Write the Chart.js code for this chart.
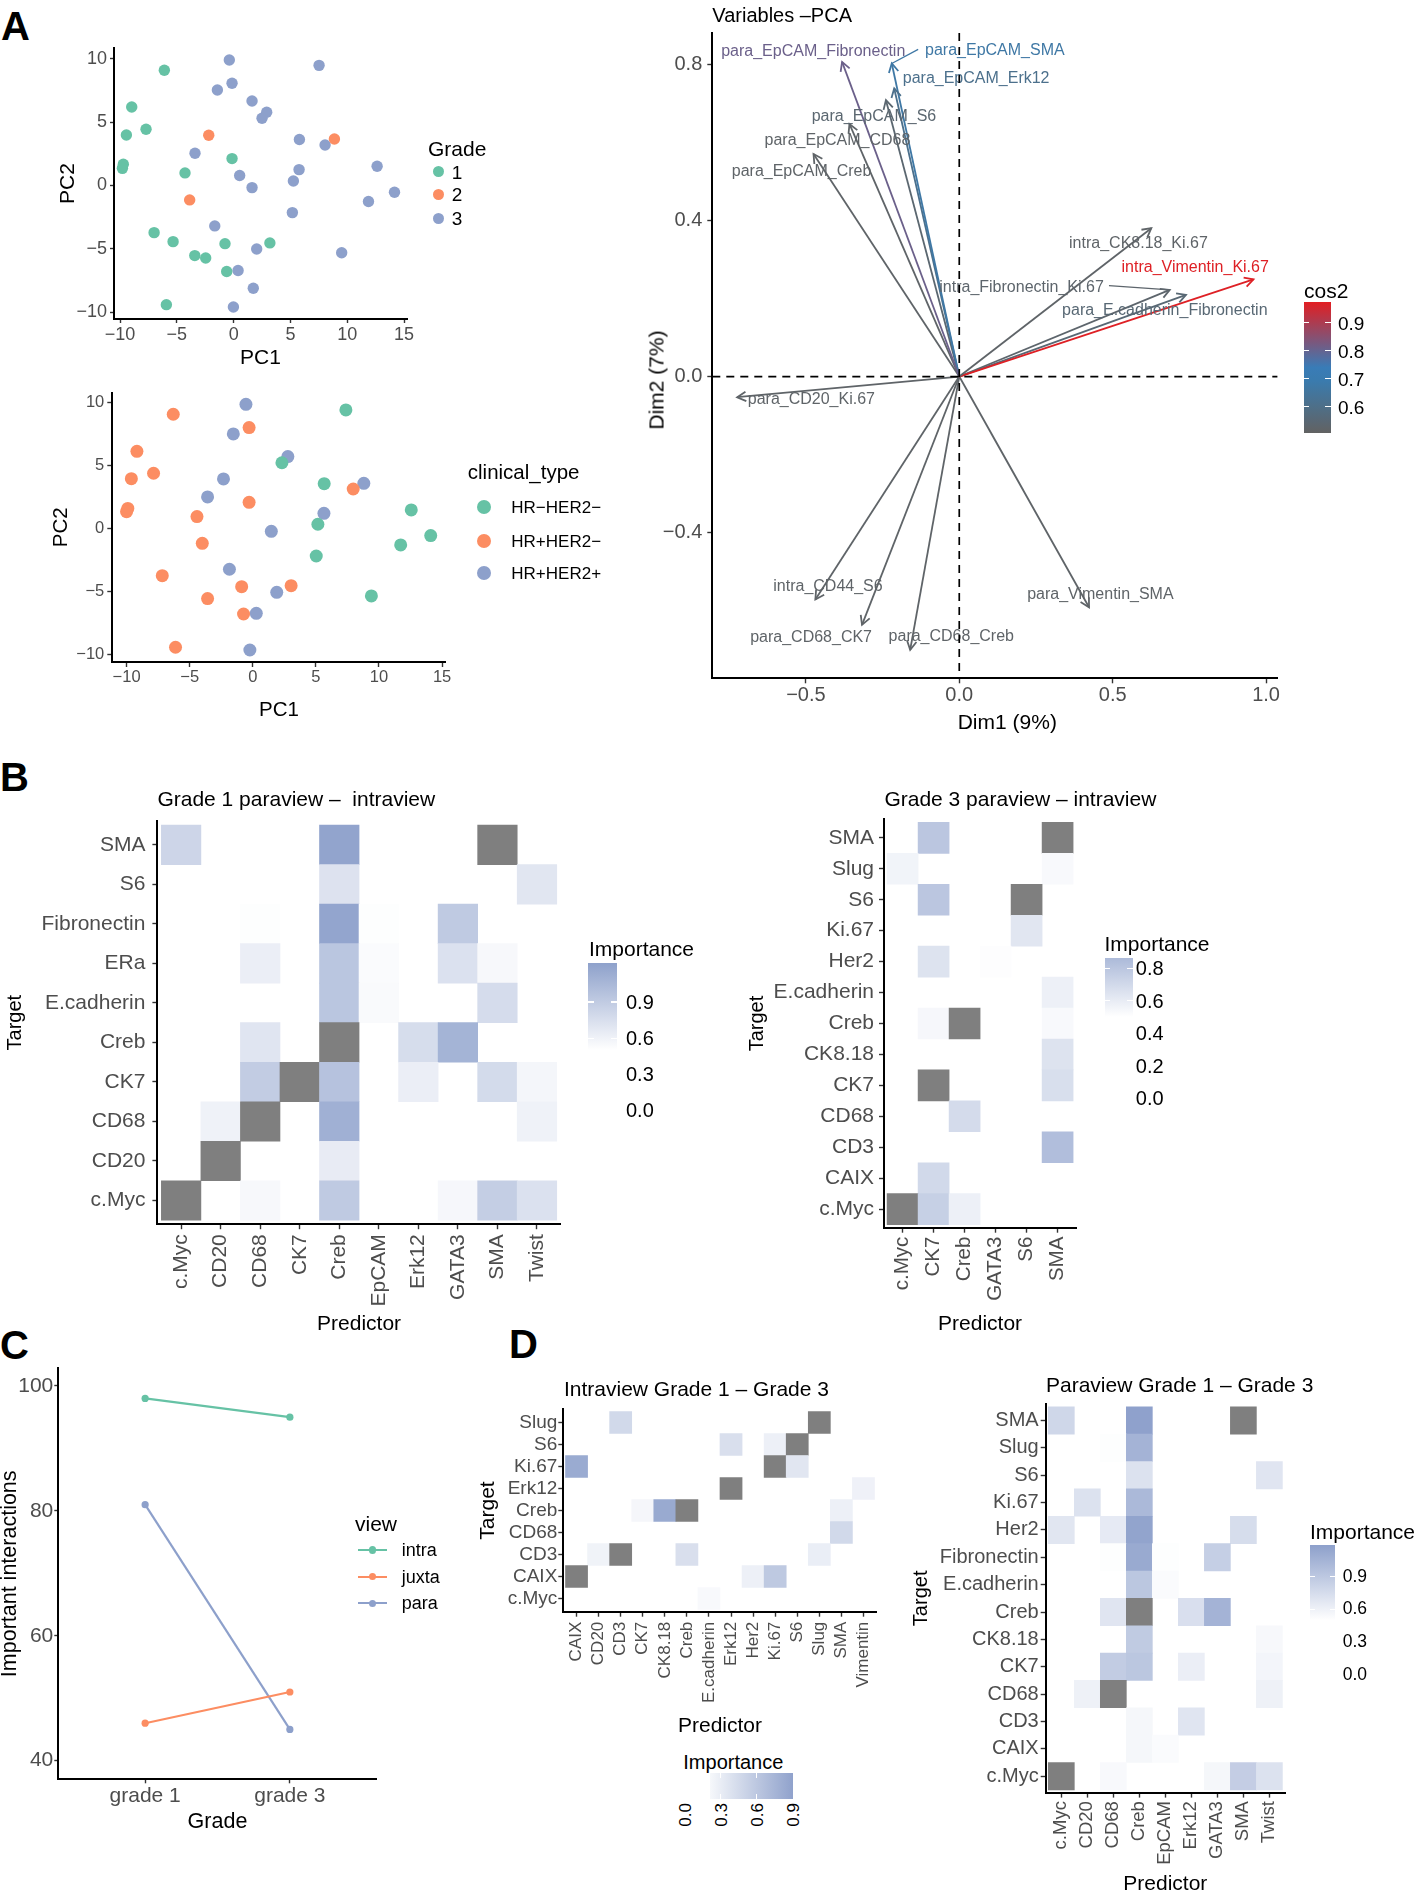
<!DOCTYPE html>
<html>
<head>
<meta charset="utf-8">
<title>Figure</title>
<script src="https://cdn.jsdelivr.net/npm/chart.js@4.4.1/dist/chart.umd.min.js"></script>
<style>
  html, body { margin: 0; padding: 0; background: #ffffff; }
  #page { position: relative; width: 1422px; height: 1892px; overflow: hidden; background: #ffffff;
          font-family: 'Liberation Sans', Arial, Helvetica, sans-serif; }
  #page .t { position: absolute; white-space: pre; line-height: 1; }
  #page canvas { position: absolute; }
  #page .box { position: absolute; }
</style>
</head>
<body>
<div id="page"></div>
<script>
// ======================= DATA =======================
// Panel A (top): PCA scores coloured by grade
const gradeLevels = ['1', '2', '3'];
const grade1PC1 = [-6.10, -8.97, -7.71, -9.44, -9.71, -9.79, -0.14, -4.28, -7.00, -5.33, -3.42, -2.46, -0.76, 3.19, -0.61, -5.92];
const grade1PC2 = [9.08, 6.19, 4.43, 3.98, 1.67, 1.35, 2.12, 0.99, -3.72, -4.43, -5.53, -5.72, -4.59, -4.53, -6.79, -9.40];
const grade2PC1 = [-2.19, 8.87, -3.87];
const grade2PC2 = [3.96, 3.67, -1.14];
const grade3PC1 = [-0.38, 7.52, -0.14, -1.43, 1.62, 2.91, 2.50, 5.79, 8.05, -3.40, 0.53, 1.62, 5.76, 5.26, 12.63, 14.16, 11.87, 5.17, -1.66, 2.03, 9.51, 0.39, 1.73, -0.02];
const grade3PC2 = [9.89, 9.47, 8.06, 7.53, 6.66, 5.77, 5.30, 3.62, 3.19, 2.54, 0.78, -0.17, 1.25, 0.35, 1.51, -0.54, -1.27, -2.14, -3.19, -5.01, -5.30, -6.71, -8.11, -9.58];

// Panel A (bottom): PCA scores coloured by clinical type
const clinicalTypes = ['HR\u2212HER2\u2212', 'HR+HER2\u2212', 'HR+HER2+'];
const hrNegPC1 = [7.38, 2.31, 5.66, 12.56, 5.16, 14.10, 11.72, 5.03, 9.40];
const hrNegPC2 = [9.39, 5.20, 3.54, 1.46, 0.32, -0.58, -1.32, -2.20, -5.37];
const hrPosHer2NegPC1 = [-6.30, -0.29, -9.18, -9.62, -7.86, -9.90, -10.00, -0.29, -4.42, -4.00, -7.17, -3.58, -0.88, 3.04, -0.73, -6.12, 7.96];
const hrPosHer2NegPC2 = [9.05, 7.99, 6.11, 3.94, 4.37, 1.58, 1.32, 2.06, 0.93, -1.19, -3.76, -5.58, -4.63, -4.55, -6.80, -9.44, 3.12];
const hrPosHer2PosPC1 = [-0.54, -1.54, 2.78, -2.32, -3.58, 8.80, 5.64, 1.47, -1.85, 1.90, 0.28, -0.23];
const hrPosHer2PosPC2 = [9.84, 7.49, 5.69, 3.92, 2.49, 3.57, 1.19, -0.24, -3.25, -5.08, -6.75, -9.66];
const pcTicksX = [-10, -5, 0, 5, 10, 15];
const pcTicksY = [-10, -5, 0, 5, 10];

// Panel A (right): PCA variables
const varNames = ['para_EpCAM_Fibronectin', 'para_EpCAM_SMA', 'para_EpCAM_Erk12', 'para_EpCAM_S6', 'para_EpCAM_CD68',
  'para_EpCAM_Creb', 'intra_CK8.18_Ki.67', 'intra_Vimentin_Ki.67', 'intra_Fibronectin_Ki.67', 'para_E.cadherin_Fibronectin',
  'para_CD20_Ki.67', 'intra_CD44_S6', 'para_CD68_CK7', 'para_CD68_Creb', 'para_Vimentin_SMA'];
const varDim1 = [-0.382, -0.220, -0.212, -0.239, -0.358, -0.475, 0.626, 0.959, 0.686, 0.739, -0.724, -0.469, -0.317, -0.160, 0.423];
const varDim2 = [0.806, 0.802, 0.738, 0.708, 0.647, 0.570, 0.380, 0.249, 0.222, 0.209, -0.053, -0.571, -0.636, -0.700, -0.591];
const varCos2 = [0.81, 0.67, 0.61, 0.54, 0.52, 0.52, 0.52, 0.97, 0.53, 0.55, 0.52, 0.52, 0.52, 0.52, 0.52];
const varLabelDim1 = [-0.476, 0.116, 0.055, -0.278, -0.397, -0.514, 0.584, 0.769, 0.203, 0.670, -0.482, -0.428, -0.483, -0.026, 0.460];
const varLabelDim2 = [0.832, 0.835, 0.764, 0.666, 0.604, 0.526, 0.340, 0.278, 0.228, 0.168, -0.059, -0.538, -0.670, -0.666, -0.559];
// label leader segments (start point in Dim units; null = no segment)
const varSegDim1 = [null, -0.134, null, null, null, null, null, null, 0.488, null, null, null, null, null, null];
const varSegDim2 = [null, 0.838, null, null, null, null, null, null, 0.233, null, null, null, null, null, null];
const dimTicksX = [-0.5, 0, 0.5, 1.0];
const dimTicksY = [-0.4, 0, 0.4, 0.8];
const cos2Ticks = [0.9, 0.8, 0.7, 0.6];

// Panel B (left): Grade 1 paraview - intraview importance (rows top -> bottom)
const g1Targets = ['SMA', 'S6', 'Fibronectin', 'ERa', 'E.cadherin', 'Creb', 'CK7', 'CD68', 'CD20', 'c.Myc'];
const g1Predictors = ['c.Myc', 'CD20', 'CD68', 'CK7', 'Creb', 'EpCAM', 'Erk12', 'GATA3', 'SMA', 'Twist'];
const g1Importance = [
  [0.82, 0, 0, 0, 1.20, 0, 0, 0, null, 0],
  [0, 0, 0, 0, 0.72, 0, 0, 0, 0, 0.69],
  [0, 0, 0.51, 0, 1.19, 0.51, 0, 0.91, 0, 0],
  [0, 0, 0.63, 0, 0.94, 0.53, 0, 0.73, 0.55, 0],
  [0, 0, 0, 0, 0.94, 0.54, 0, 0, 0.77, 0],
  [0, 0, 0.70, 0, null, 0, 0.76, 1.08, 0, 0],
  [0, 0, 0.89, null, 0.97, 0, 0.63, 0, 0.78, 0.57],
  [0, 0.60, null, 0, 1.11, 0, 0, 0, 0, 0.60],
  [0, null, 0, 0, 0.65, 0, 0, 0, 0, 0],
  [null, 0, 0.55, 0, 0.91, 0, 0, 0.56, 0.88, 0.73]
];
const g1LegendTicks = [0.9, 0.6, 0.3, 0.0];

// Panel B (right): Grade 3 paraview - intraview importance
const g3Targets = ['SMA', 'Slug', 'S6', 'Ki.67', 'Her2', 'E.cadherin', 'Creb', 'CK8.18', 'CK7', 'CD68', 'CD3', 'CAIX', 'c.Myc'];
const g3Predictors = ['c.Myc', 'CK7', 'Creb', 'GATA3', 'S6', 'SMA'];
const g3Importance = [
  [0, 0.80, 0, 0, 0, null],
  [0.56, 0, 0, 0, 0, 0.53],
  [0, 0.80, 0, 0, null, 0],
  [0, 0, 0, 0, 0.63, 0],
  [0, 0.65, 0, 0.51, 0, 0],
  [0, 0, 0, 0, 0, 0.58],
  [0, 0.54, null, 0, 0, 0.53],
  [0, 0, 0, 0, 0, 0.65],
  [0, null, 0, 0, 0, 0.67],
  [0, 0, 0.69, 0, 0, 0],
  [0, 0, 0, 0, 0, 0.84],
  [0, 0.70, 0, 0, 0, 0],
  [null, 0.75, 0.58, 0, 0, 0]
];
const g3LegendTicks = [0.8, 0.6, 0.4, 0.2, 0.0];

// Panel C: important interactions per view
const gradeNames = ['grade 1', 'grade 3'];
const viewNames = ['intra', 'juxta', 'para'];
const intraCounts = [98, 95];
const juxtaCounts = [46, 51];
const paraCounts = [81, 45];
const countTicks = [40, 60, 80, 100];

// Panel D (left): Intraview Grade 1 - Grade 3
const intraTargets = ['Slug', 'S6', 'Ki.67', 'Erk12', 'Creb', 'CD68', 'CD3', 'CAIX', 'c.Myc'];
const intraPredictors = ['CAIX', 'CD20', 'CD3', 'CK7', 'CK8.18', 'Creb', 'E.cadherin', 'Erk12', 'Her2', 'Ki.67', 'S6', 'Slug', 'SMA', 'Vimentin'];
const intraImportance = [
  [0, 0, 0.46, 0, 0, 0, 0, 0, 0, 0, 0, null, 0, 0],
  [0, 0, 0, 0, 0, 0, 0, 0.41, 0, 0.27, null, 0, 0, 0],
  [0.83, 0, 0, 0, 0, 0, 0, 0, 0, null, 0.35, 0, 0, 0],
  [0, 0, 0, 0, 0, 0, 0, null, 0, 0, 0, 0, 0, 0.26],
  [0, 0, 0, 0.22, 0.84, null, 0, 0, 0, 0, 0, 0, 0.27, 0],
  [0, 0, 0, 0, 0, 0, 0, 0, 0, 0, 0, 0, 0.46, 0],
  [0, 0.25, null, 0, 0, 0.41, 0, 0, 0, 0, 0, 0.29, 0, 0],
  [null, 0, 0, 0, 0, 0, 0, 0, 0.27, 0.59, 0, 0, 0, 0],
  [0, 0, 0, 0, 0, 0, 0.20, 0, 0, 0, 0, 0, 0, 0]
];
const intraLegendTicks = [0.0, 0.3, 0.6, 0.9];

// Panel D (right): Paraview Grade 1 - Grade 3
const paraTargets = ['SMA', 'Slug', 'S6', 'Ki.67', 'Her2', 'Fibronectin', 'E.cadherin', 'Creb', 'CK8.18', 'CK7', 'CD68', 'CD3', 'CAIX', 'c.Myc'];
const paraPredictors = ['c.Myc', 'CD20', 'CD68', 'Creb', 'EpCAM', 'Erk12', 'GATA3', 'SMA', 'Twist'];
const paraImportance = [
  [0.79, 0, 0, 1.18, 0, 0, 0, null, 0],
  [0, 0, 0.51, 1.05, 0, 0, 0, 0, 0],
  [0, 0, 0, 0.71, 0, 0, 0, 0, 0.69],
  [0, 0.71, 0, 1.01, 0, 0, 0, 0, 0],
  [0.68, 0, 0.65, 1.16, 0, 0, 0, 0.75, 0],
  [0, 0, 0.51, 1.12, 0.51, 0, 0.85, 0, 0],
  [0, 0, 0, 0.91, 0.53, 0, 0, 0, 0],
  [0, 0, 0.69, null, 0, 0.73, 1.05, 0, 0],
  [0, 0, 0, 0.88, 0, 0, 0, 0, 0.55],
  [0, 0, 0.87, 0.91, 0, 0.62, 0, 0, 0.57],
  [0, 0.60, null, 0, 0, 0, 0, 0, 0.60],
  [0, 0, 0, 0.56, 0, 0.69, 0, 0, 0],
  [0, 0, 0, 0.56, 0.53, 0, 0, 0, 0],
  [null, 0, 0.54, 0, 0, 0, 0.56, 0.86, 0.71]
];
const paraLegendTicks = [0.9, 0.6, 0.3, 0.0];

// ======================= STYLE / HELPERS =======================
const FONT = "'Liberation Sans', Arial, Helvetica, sans-serif";
Chart.defaults.font.family = FONT;
Chart.defaults.animation = false;
const SET2 = ['#66C2A5', '#FC8D62', '#8DA0CB'];
const HEAT_HIGH = [141, 160, 203];
const page = document.getElementById('page');

function rgb(c) { return 'rgb(' + c.map(v => Math.round(v)).join(',') + ')'; }
function mix(a, b, t) { return a.map((v, i) => v + (b[i] - v) * t); }
function fmt(v, d) { return (v < 0 ? '\u2212' : '') + Math.abs(v).toFixed(d); }

function heatColour(v, lo, hi) {
  if (v === null) return '#7F7F7F';
  const t = Math.max(0, Math.min(1, (v - lo) / (hi - lo)));
  return rgb(mix([255, 255, 255], HEAT_HIGH, t));
}
function cos2Colour(v) {
  const stops = [[0.505, [98, 98, 98]], [0.73, [50, 128, 189]], [0.975, [226, 30, 34]]];
  if (v <= stops[0][0]) return rgb(stops[0][1]);
  for (let i = 1; i < stops.length; i++) {
    if (v <= stops[i][0]) {
      const t = (v - stops[i - 1][0]) / (stops[i][0] - stops[i - 1][0]);
      return rgb(mix(stops[i - 1][1], stops[i][1], t));
    }
  }
  return rgb(stops[stops.length - 1][1]);
}

function text(str, x, y, o = {}) {
  const d = document.createElement('div');
  d.className = 't';
  d.textContent = str;
  d.style.left = x + 'px';
  d.style.top = y + 'px';
  d.style.fontSize = (o.size || 20) + 'px';
  d.style.color = o.color || '#000';
  if (o.bold) d.style.fontWeight = 'bold';
  if (o.vertical) {
    d.style.writingMode = 'vertical-rl';
    d.style.transform = 'translateX(-50%) rotate(180deg)';
  } else if (o.rotate) {
    d.style.transform = 'translate(-50%,-50%) rotate(-90deg)';
  } else {
    d.style.transform = o.align === 'center' ? 'translate(-50%,-50%)' : 'translate(0,-50%)';
  }
  page.appendChild(d);
  return d;
}
function box(x, y, w, h, bg, extra) {
  const d = document.createElement('div');
  d.className = 'box';
  d.style.left = x + 'px'; d.style.top = y + 'px';
  d.style.width = w + 'px'; d.style.height = h + 'px';
  d.style.background = bg;
  if (extra) Object.assign(d.style, extra);
  page.appendChild(d);
  return d;
}
function dot(x, y, r, c) { return box(x - r, y - r, 2 * r, 2 * r, c, {borderRadius: '50%'}); }

function frame(p) {
  const yts = p.yTitleSize || 20, xts = p.xTitleSize || 20;
  const cl = Math.round(p.yTitleX != null ? p.yTitleX - 0.6 * yts : p.l - 80);
  const cb = Math.round(p.xTitleY != null ? p.xTitleY + 0.6 * xts : p.b + 80);
  const ct = Math.round(p.t - 24), cr = Math.round(p.r + 30);
  return {
    cl, ct, cr, cb, W: cr - cl, H: cb - ct,
    yw: p.l - cl, xh: cb - p.b, padTop: p.t - ct, padRight: cr - p.r,
    yTitlePad: p.yTitleX != null ? (p.yTitleX - cl) - 0.6 * yts : 0,
    xTitlePad: p.xTitleY != null ? (cb - p.xTitleY) - 0.6 * xts : 0,
    yTitleSize: yts, xTitleSize: xts
  };
}
function newCanvas(f) {
  const c = document.createElement('canvas');
  c.width = f.W; c.height = f.H;
  c.style.left = f.cl + 'px'; c.style.top = f.ct + 'px';
  c.style.width = f.W + 'px'; c.style.height = f.H + 'px';
  page.appendChild(c);
  return c;
}
function axisBase(o) {
  return {
    type: 'linear', min: o.min, max: o.max, offset: false,
    border: {display: true, color: '#000', width: 2},
    grid: {display: true, offset: false, drawOnChartArea: false, drawTicks: true, tickLength: o.tl == null ? 5 : o.tl, tickWidth: 1.4, tickColor: '#333333'},
    ticks: {color: '#4D4D4D', font: {size: o.fs}, padding: o.pad == null ? 2 : o.pad, autoSkip: false,
            minRotation: o.rot || 0, maxRotation: o.rot || 0, callback: (v) => o.label(v)},
    afterBuildTicks: (s) => { s.ticks = o.ticks.map(v => ({value: v})); }
  };
}
function xAxis(f, o) {
  const a = axisBase(o);
  a.position = 'bottom';
  a.afterFit = (s) => { s.height = f.xh; };
  a.title = o.title ? {display: true, text: o.title, color: '#000', font: {size: f.xTitleSize}, padding: {top: 0, bottom: f.xTitlePad}} : {display: false};
  return a;
}
function yAxis(f, o) {
  const a = axisBase(o);
  a.position = 'left';
  a.afterFit = (s) => { s.width = f.yw; };
  a.title = o.title ? {display: true, text: o.title, color: '#000', font: {size: f.yTitleSize}, padding: {top: f.yTitlePad, bottom: 0}} : {display: false};
  return a;
}
function baseOptions(f, scales) {
  return {
    responsive: false, animation: false, events: [],
    layout: {padding: {left: 0, top: f.padTop, right: f.padRight, bottom: 0}},
    plugins: {legend: {display: false}, tooltip: {enabled: false}, title: {display: false}},
    scales
  };
}
function points(xs, ys) { return xs.map((v, i) => ({x: v, y: ys[i]})); }

// ======================= PANEL LETTERS =======================
text('A', 1, 26, {size: 40, bold: true});
text('B', 0, 777, {size: 40, bold: true});
text('C', 0, 1345, {size: 40, bold: true});
text('D', 509, 1343.5, {size: 40, bold: true});

// ======================= A: scatter by grade =======================
(function () {
  const f = frame({l: 114, t: 48, r: 407, b: 319, yTitleX: 68.3, yTitleSize: 21, xTitleY: 358, xTitleSize: 21});
  const series = [[grade1PC1, grade1PC2], [grade2PC1, grade2PC2], [grade3PC1, grade3PC2]];
  new Chart(newCanvas(f), {
    type: 'scatter',
    data: {datasets: series.map((s, k) => ({label: gradeLevels[k], data: points(s[0], s[1]), pointRadius: 5.7,
      pointBackgroundColor: SET2[k], pointBorderWidth: 0, showLine: false}))},
    options: baseOptions(f, {
      x: xAxis(f, {min: -10.53, max: 15.26, ticks: pcTicksX, label: v => fmt(v, 0), fs: 18, tl: 4, pad: 1, title: 'PC1'}),
      y: yAxis(f, {min: -10.53, max: 10.84, ticks: pcTicksY, label: v => fmt(v, 0), fs: 18, tl: 4, pad: 3, title: 'PC2'})
    })
  });
  text('Grade', 428, 148, {size: 21});
  [171.7, 194.3, 218.3].forEach((y, k) => { dot(438.3, y, 5.5, SET2[k]); text(gradeLevels[k], 451.7, y, {size: 19}); });
})();

// ======================= A: scatter by clinical type =======================
(function () {
  const f = frame({l: 112.3, t: 392.7, r: 445.6, b: 662, yTitleX: 61.3, yTitleSize: 20.5, xTitleY: 710, xTitleSize: 20.5});
  const series = [[hrNegPC1, hrNegPC2], [hrPosHer2NegPC1, hrPosHer2NegPC2], [hrPosHer2PosPC1, hrPosHer2PosPC2]];
  new Chart(newCanvas(f), {
    type: 'scatter',
    data: {datasets: series.map((s, k) => ({label: clinicalTypes[k], data: points(s[0], s[1]), pointRadius: 6.5,
      pointBackgroundColor: SET2[k], pointBorderWidth: 0, showLine: false}))},
    options: baseOptions(f, {
      x: xAxis(f, {min: -11.13, max: 15.28, ticks: pcTicksX, label: v => fmt(v, 0), fs: 16.5, tl: 5, pad: 1, title: 'PC1'}),
      y: yAxis(f, {min: -10.61, max: 10.76, ticks: pcTicksY, label: v => fmt(v, 0), fs: 16.5, tl: 5, pad: 3, title: 'PC2'})
    })
  });
  text('clinical_type', 467.8, 471.7, {size: 20.5});
  [507.3, 540.7, 573.3].forEach((y, k) => { dot(484.4, y, 7, SET2[k]); text(clinicalTypes[k], 511.3, y, {size: 17}); });
})();

// ======================= A: PCA variables =======================
(function () {
  const f = frame({l: 712.3, t: 33, r: 1277.4, b: 678.3});
  const decor = {
    id: 'pcaDecor',
    afterDatasetsDraw(chart) {
      const {ctx, chartArea: a} = chart;
      const sx = chart.scales.x, sy = chart.scales.y;
      const ox = sx.getPixelForValue(0), oy = sy.getPixelForValue(0);
      ctx.save();
      varNames.forEach((name, i) => {
        const px = sx.getPixelForValue(varDim1[i]), py = sy.getPixelForValue(varDim2[i]);
        const ang = Math.atan2(py - oy, px - ox);
        ctx.strokeStyle = cos2Colour(varCos2[i]);
        ctx.lineWidth = 1.8;
        ctx.beginPath();
        ctx.moveTo(px - 10 * Math.cos(ang - 0.5), py - 10 * Math.sin(ang - 0.5));
        ctx.lineTo(px, py);
        ctx.lineTo(px - 10 * Math.cos(ang + 0.5), py - 10 * Math.sin(ang + 0.5));
        ctx.stroke();
        if (varSegDim1[i] !== null) {
          ctx.lineWidth = 1.3;
          ctx.beginPath();
          ctx.moveTo(sx.getPixelForValue(varSegDim1[i]), sy.getPixelForValue(varSegDim2[i]));
          ctx.lineTo(px, py);
          ctx.stroke();
        }
      });
      ctx.font = '16px ' + FONT;
      ctx.textAlign = 'center';
      ctx.textBaseline = 'middle';
      varNames.forEach((name, i) => {
        ctx.fillStyle = cos2Colour(varCos2[i]);
        ctx.fillText(name, sx.getPixelForValue(varLabelDim1[i]), sy.getPixelForValue(varLabelDim2[i]));
      });
      ctx.strokeStyle = '#000';
      ctx.lineWidth = 1.7;
      ctx.setLineDash([8, 6]);
      ctx.beginPath();
      ctx.moveTo(ox, a.top); ctx.lineTo(ox, a.bottom);
      ctx.moveTo(a.left, oy); ctx.lineTo(a.right, oy);
      ctx.stroke();
      ctx.restore();
    }
  };
  new Chart(newCanvas(f), {
    type: 'scatter',
    data: {datasets: varNames.map((name, i) => ({label: name, data: [{x: 0, y: 0}, {x: varDim1[i], y: varDim2[i]}],
      showLine: true, borderColor: cos2Colour(varCos2[i]), borderWidth: 1.8, pointRadius: 0, fill: false}))},
    options: baseOptions(f, {
      x: xAxis(f, {min: -0.805, max: 1.037, ticks: dimTicksX, label: v => fmt(v, 1), fs: 20, tl: 5, pad: 0}),
      y: yAxis(f, {min: -0.773, max: 0.880, ticks: dimTicksY, label: v => fmt(v, 1), fs: 20, tl: 5, pad: 5})
    }),
    plugins: [decor]
  });
  text('Variables \u2013PCA', 712.3, 15, {size: 20});
  text('Dim1 (9%)', 1007.3, 720.7, {size: 21, align: 'center'});
  text('Dim2 (7%)', 656, 379.6, {size: 21, rotate: true});
  // cos2 colour bar
  text('cos2', 1304, 290, {size: 21});
  const top = 301.7, bot = 433.3, vTop = 0.975, ppu = 280;
  const stops = [];
  for (let k = 0; k <= 10; k++) { const v = vTop - k * (vTop - 0.505) / 10; stops.push(cos2Colour(v) + ' ' + (k * 10) + '%'); }
  box(1304, top, 26.7, bot - top, 'linear-gradient(to bottom,' + stops.join(',') + ')');
  cos2Ticks.forEach(v => {
    const y = top + (vTop - v) * ppu;
    box(1304, y - 0.6, 5.3, 1.2, '#fff');
    box(1325.4, y - 0.6, 5.3, 1.2, '#fff');
    text(v.toFixed(1), 1338, y, {size: 19});
  });
})();

// ======================= Heatmaps =======================
function heatmap(o) {
  const f = frame(o.plot);
  const n = o.rows.length, m = o.cols.length;
  const cells = [];
  o.values.forEach((row, r) => row.forEach((v, c) => {
    if (v === 0) return;
    const yi = n - 1 - r;
    cells.push({x: c, y: [yi - 0.5, yi + 0.5], v: v});
  }));
  new Chart(newCanvas(f), {
    type: 'bar',
    data: {datasets: [{label: 'Importance', data: cells,
      backgroundColor: (c) => (c.raw ? heatColour(c.raw.v, o.lo, o.hi) : '#ffffff'),
      borderWidth: 0, barPercentage: 1, categoryPercentage: 1}]},
    options: baseOptions(f, {
      x: xAxis(f, {min: -0.6, max: m - 0.4, ticks: o.cols.map((_, i) => i), label: v => o.cols[v], fs: o.fsX, tl: 5, pad: o.padX, rot: 90, title: 'Predictor'}),
      y: yAxis(f, {min: -0.6, max: n - 0.4, ticks: o.rows.map((_, i) => i), label: v => o.rows[n - 1 - v], fs: o.fsY, tl: 5, pad: o.padY, title: 'Target'})
    })
  });
}
function heatLegendV(o) {
  text('Importance', o.titleX, o.titleY, {size: 21});
  const yTop = o.y0 - o.vTop * o.ppu, yBot = o.y0;
  const pLo = (o.lo / o.vTop) * 100;
  box(o.barX, yTop, o.barW, yBot - yTop,
      'linear-gradient(to top, #ffffff 0%, #ffffff ' + pLo + '%, ' + heatColour(o.vTop, o.lo, o.hi) + ' 100%)');
  o.ticks.forEach(v => {
    const y = o.y0 - v * o.ppu;
    box(o.barX, y - 0.6, o.barW * 0.2, 1.2, '#fff');
    box(o.barX + o.barW * 0.8, y - 0.6, o.barW * 0.2, 1.2, '#fff');
    text(v.toFixed(1), o.labelX, y, {size: o.fs});
  });
}

heatmap({rows: g1Targets, cols: g1Predictors, values: g1Importance, lo: 0.5, hi: 1.23,
  plot: {l: 157.4, t: 821.2, r: 560.7, b: 1224.2, yTitleX: 15.8, yTitleSize: 20, xTitleY: 1324.5, xTitleSize: 21},
  fsX: 21, fsY: 21, padX: 5, padY: 7});
text('Grade 1 paraview \u2013  intraview', 157.4, 798.3, {size: 21});
heatLegendV({titleX: 589, titleY: 947.5, barX: 588.3, barW: 28.4, y0: 1110.3, ppu: 120.3, vTop: 1.226,
  lo: 0.5, hi: 1.23, ticks: g1LegendTicks, labelX: 626, fs: 20});

heatmap({rows: g3Targets, cols: g3Predictors, values: g3Importance, lo: 0.5, hi: 1.0,
  plot: {l: 884, t: 819.3, r: 1076.2, b: 1227.7, yTitleX: 757.4, yTitleSize: 20, xTitleY: 1324.5, xTitleSize: 21},
  fsX: 20.5, fsY: 21, padX: 4, padY: 5});
text('Grade 3 paraview \u2013 intraview', 884.4, 797.5, {size: 21});
heatLegendV({titleX: 1104.5, titleY: 943, barX: 1104.5, barW: 28.3, y0: 1098, ppu: 162, vTop: 0.863,
  lo: 0.5, hi: 1.0, ticks: g3LegendTicks, labelX: 1135.8, fs: 20});

heatmap({rows: intraTargets, cols: intraPredictors, values: intraImportance, lo: 0.15, hi: 0.92,
  plot: {l: 563.3, t: 1409.3, r: 876.7, b: 1611.7, yTitleX: 488.3, yTitleSize: 21, xTitleY: 1726.7, xTitleSize: 21},
  fsX: 17, fsY: 19, padX: 5, padY: 1});
text('Intraview Grade 1 \u2013 Grade 3', 564, 1388.3, {size: 21});
(function () {
  text('Importance', 683.3, 1762.3, {size: 20});
  const x0 = 684.7, ppu = 120, vMin = 0.21, vMax = 0.9, lo = 0.15, hi = 0.92;
  const xL = x0 + vMin * ppu, xR = x0 + vMax * ppu;
  box(xL, 1773.3, xR - xL, 26, 'linear-gradient(to right,' + heatColour(vMin, lo, hi) + ',' + heatColour(vMax, lo, hi) + ')');
  intraLegendTicks.forEach(v => {
    const x = x0 + v * ppu;
    if (x > xL + 1 && x < xR - 1) {
      box(x - 0.6, 1773.3, 1.2, 5, '#fff');
      box(x - 0.6, 1794.3, 1.2, 5, '#fff');
    }
    text(v.toFixed(1), x, 1803, {size: 17, vertical: true});
  });
})();

heatmap({rows: paraTargets, cols: paraPredictors, values: paraImportance, lo: 0.5, hi: 1.19,
  plot: {l: 1045.7, t: 1404.1, r: 1285, b: 1792.6, yTitleX: 921.7, yTitleSize: 20, xTitleY: 1884.3, xTitleSize: 21},
  fsX: 18.5, fsY: 20, padX: 3.5, padY: 2});
text('Paraview Grade 1 \u2013 Grade 3', 1046, 1384.4, {size: 21});
heatLegendV({titleX: 1310, titleY: 1531.4, barX: 1310, barW: 25, y0: 1675, ppu: 109.4, vTop: 1.19,
  lo: 0.5, hi: 1.19, ticks: paraLegendTicks, labelX: 1342.7, fs: 17.5});

// ======================= C: important interactions =======================
(function () {
  const f = frame({l: 58.3, t: 1368.3, r: 376.7, b: 1779.3, yTitleX: 10, yTitleSize: 21.5, xTitleY: 1821.7, xTitleSize: 21.5});
  const series = [intraCounts, juxtaCounts, paraCounts];
  new Chart(newCanvas(f), {
    type: 'scatter',
    data: {datasets: series.map((s, k) => ({label: viewNames[k], data: s.map((v, i) => ({x: i, y: v})), showLine: true,
      borderColor: SET2[k], backgroundColor: SET2[k], borderWidth: 2.2, pointRadius: 3.6, pointBorderWidth: 0,
      pointBackgroundColor: SET2[k]}))},
    options: baseOptions(f, {
      x: xAxis(f, {min: -0.6, max: 1.6, ticks: [0, 1], label: v => gradeNames[v], fs: 21, tl: 4, pad: 0, title: 'Grade'}),
      y: yAxis(f, {min: 37.02, max: 102.83, ticks: countTicks, label: v => String(v), fs: 21, tl: 4, pad: 1, title: 'Important interactions'})
    })
  });
  text('view', 355, 1523.3, {size: 21});
  [1550, 1576.7, 1603.3].forEach((y, k) => {
    box(358.3, y - 1.1, 28.4, 2.2, SET2[k]);
    dot(372.5, y, 3.6, SET2[k]);
    text(viewNames[k], 401.7, y, {size: 18});
  });
})();
</script>
</body>
</html>
